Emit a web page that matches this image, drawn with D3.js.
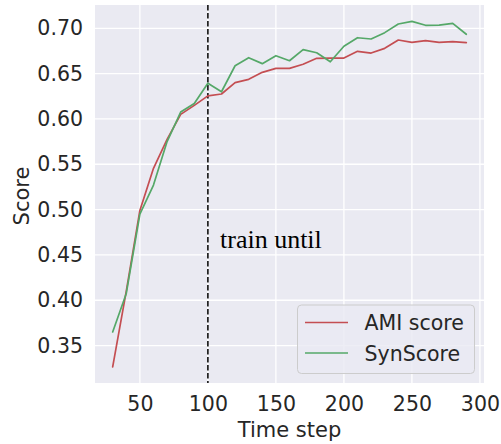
<!DOCTYPE html>
<html>
<head>
<meta charset="utf-8">
<script src="https://cdn.jsdelivr.net/npm/d3@7"></script>
<style>
  html, body { margin: 0; padding: 0; background: #ffffff; }
  svg { display: block; }
</style>
</head>
<body>
<svg id="chart" width="501" height="444"></svg>
<script>
// ---- data ----
const timeSteps = [30, 40, 50, 60, 70, 80, 90, 100, 110, 120, 130, 140, 150, 160, 170, 180, 190, 200, 210, 220, 230, 240, 250, 260, 270, 280, 290];
const amiScore = [0.3265, 0.410, 0.499, 0.5455, 0.5775, 0.605, 0.615, 0.6255, 0.6275, 0.640, 0.6437, 0.6514, 0.6558, 0.6558, 0.6603, 0.6669, 0.667, 0.6672, 0.6746, 0.6727, 0.6779, 0.6871, 0.6845, 0.6863, 0.6845, 0.6852, 0.6841];
const synScore = [0.365, 0.4075, 0.495, 0.527, 0.575, 0.6076, 0.617, 0.6393, 0.630, 0.6587, 0.6676, 0.661, 0.6698, 0.6642, 0.6764, 0.673, 0.6631, 0.6802, 0.6896, 0.6882, 0.6952, 0.7047, 0.7077, 0.7033, 0.7036, 0.7055, 0.6934];
const xTicks = [50, 100, 150, 200, 250, 300];
const yTicks = [0.35, 0.40, 0.45, 0.50, 0.55, 0.60, 0.65, 0.70];
const seriesNames = ["AMI score", "SynScore"];
const trainUntil = 100;
const annotation = "train until";

// ---- layout ----
const pLeft = 95, pRight = 484, pTop = 5, pBottom = 383;
const svg = d3.select("#chart");
const x = d3.scaleLinear().domain([17, 303]).range([pLeft, pRight]);
const y = d3.scaleLinear().domain([0.3087, 0.7257]).range([pBottom, pTop]);

const font = "'DejaVu Sans', sans-serif";
const textColor = "#262626";

// background
svg.append("rect").attr("x", pLeft).attr("y", pTop)
  .attr("width", pRight - pLeft).attr("height", pBottom - pTop)
  .attr("fill", "#EAEAF2");

// grid
svg.append("g").selectAll("line").data(xTicks).join("line")
  .attr("x1", d => x(d)).attr("x2", d => x(d))
  .attr("y1", pTop).attr("y2", pBottom)
  .attr("stroke", "#ffffff").attr("stroke-width", 1.3);
svg.append("g").selectAll("line").data(yTicks).join("line")
  .attr("y1", d => y(d)).attr("y2", d => y(d))
  .attr("x1", pLeft).attr("x2", pRight)
  .attr("stroke", "#ffffff").attr("stroke-width", 1.3);

// axes (tick labels only)
const xAxis = d3.axisBottom(x).tickValues(xTicks).tickSize(0).tickPadding(13).tickFormat(d3.format("d"));
const gx = svg.append("g").attr("transform", `translate(0,${pBottom})`).call(xAxis);
gx.select(".domain").remove();
gx.selectAll("text").attr("font-family", font).attr("font-size", 20.5).attr("fill", textColor);

const yAxis = d3.axisLeft(y).tickValues(yTicks).tickSize(0).tickPadding(12).tickFormat(d3.format(".2f"));
const gy = svg.append("g").attr("transform", `translate(${pLeft},0)`).call(yAxis);
gy.select(".domain").remove();
gy.selectAll("text").attr("font-family", font).attr("font-size", 20.5).attr("fill", textColor);

// axis labels
svg.append("text").attr("x", (pLeft + pRight) / 2).attr("y", 437)
  .attr("text-anchor", "middle").attr("font-family", font).attr("font-size", 21)
  .attr("fill", textColor).text("Time step");
svg.append("text").attr("transform", `translate(29,196) rotate(-90)`)
  .attr("text-anchor", "middle").attr("font-family", font).attr("font-size", 21)
  .attr("fill", textColor).text("Score");

// vertical dashed line
svg.append("line").attr("x1", x(trainUntil)).attr("x2", x(trainUntil))
  .attr("y1", pTop).attr("y2", pBottom)
  .attr("stroke", "#000").attr("stroke-width", 1.5).attr("stroke-dasharray", "5.5,2.5");

// lines
const colors = ["#C44E52", "#55A868"];
const series = [amiScore, synScore];
const line = d3.line().x((d, i) => x(timeSteps[i])).y(d => y(d));
series.forEach((s, k) => {
  svg.append("path").datum(s).attr("d", line)
    .attr("fill", "none").attr("stroke", colors[k]).attr("stroke-width", 1.7)
    .attr("stroke-linejoin", "round").attr("stroke-linecap", "round");
});

// annotation
svg.append("text").attr("x", 220).attr("y", 248)
  .attr("font-family", "'Liberation Serif', 'Times New Roman', serif").attr("font-size", 26)
  .attr("fill", "#000").text(annotation);

// legend
const lg = svg.append("g");
lg.append("rect").attr("x", 297.5).attr("y", 305).attr("width", 177).attr("height", 68.5)
  .attr("rx", 4).attr("fill", "#EAEAF2").attr("fill-opacity", 0.8)
  .attr("stroke", "#CCCCCC").attr("stroke-width", 1);
seriesNames.forEach((name, k) => {
  const yy = 322.5 + k * 30.5;
  lg.append("line").attr("x1", 305).attr("x2", 348).attr("y1", yy).attr("y2", yy)
    .attr("stroke", colors[k]).attr("stroke-width", 1.7);
  lg.append("text").attr("x", 364.5).attr("y", yy + 7.5)
    .attr("font-family", font).attr("font-size", 20.5).attr("fill", textColor).text(name);
});
</script>
</body>
</html>
